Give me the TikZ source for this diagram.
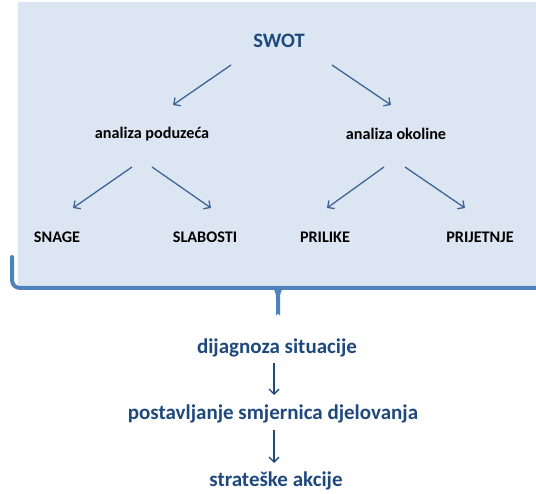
\documentclass[tikz,border=0pt]{standalone}
\usepackage{fontspec}
\setmainfont{Carlito}
\usetikzlibrary{arrows.meta}
\definecolor{panel}{HTML}{DCE6F2}
\definecolor{bracecol}{HTML}{4F81BD}
\definecolor{arrowcol}{HTML}{3F6597}
\definecolor{deepblue}{HTML}{1F497D}
\tikzset{
  lbl/.style={inner sep=0pt, font=\bfseries\fontsize{16.2}{19}\selectfont, text=black},
  title/.style={inner sep=0pt, font=\bfseries\fontsize{20.5}{24}\selectfont, text=deepblue},
  flow/.style={inner sep=0pt, font=\bfseries\fontsize{21}{25}\selectfont, text=deepblue},
  branch/.style={draw=arrowcol, line width=1.3pt, -{Straight Barb[length=5pt,width=10pt,line width=1.3pt]}},
  down/.style={draw=deepblue, line width=1.3pt, -{Straight Barb[length=5pt,width=10pt,line width=1.3pt]}},
}
\begin{document}
\begin{tikzpicture}[x=1pt,y=-1pt]
\useasboundingbox (0,0) rectangle (536,494);
% shaded panel
\fill[panel] (18,2) rectangle (536,286);
% brace under the panel
\draw[bracecol, line width=4pt, line cap=round, line join=round]
  (12,257) -- (12,280) to[out=-90,in=180] (20,288) -- (536,288);
\fill[bracecol] (268,287) .. controls (275,288) and (276,292) .. (276,299)
  -- (276,316) arc[start angle=180,end angle=360,radius=2]
  -- (280,299) .. controls (280,292) and (281,288) .. (288,287) -- cycle;

% tree
\node[title] (swot) at (279,41) {SWOT};
\node[lbl] (pod) at (152,134) {analiza poduzeća};
\node[lbl] (oko) at (396,134) {analiza okoline};
\node[lbl] (snage) at (57,237) {SNAGE};
\node[lbl] (slab) at (205,237) {SLABOSTI};
\node[lbl] (pril) at (325,237) {PRILIKE};
\node[lbl] (prij) at (480,237) {PRIJETNJE};

\draw[branch] ([shift={(-48,24)}]swot.center) -- ([shift={(21,-29)}]pod.center);
\draw[branch] ([shift={(53,24)}]swot.center) -- ([shift={(-5,-29)}]oko.center);
\draw[branch] ([shift={(-20,33)}]pod.center) -- ([shift={(16,-29)}]snage.center);
\draw[branch] ([shift={(0,33)}]pod.center) -- ([shift={(6,-29)}]slab.center);
\draw[branch] ([shift={(-12,33)}]oko.center) -- ([shift={(2,-29)}]pril.center);
\draw[branch] ([shift={(9,33)}]oko.center) -- ([shift={(-15,-29)}]prij.center);

% consequences
\node[flow] (diag) at (277,348) {dijagnoza situacije};
\node[flow] (smj) at (273,414) {postavljanje smjernica djelovanja};
\node[flow] (akc) at (276,481) {strateške akcije};
\draw[down] ([shift={(-3,15)}]diag.center) -- ([shift={(1,-19)}]smj.center);
\draw[down] ([shift={(1,16)}]smj.center) -- ([shift={(-2,-18)}]akc.center);
\end{tikzpicture}
\end{document}
